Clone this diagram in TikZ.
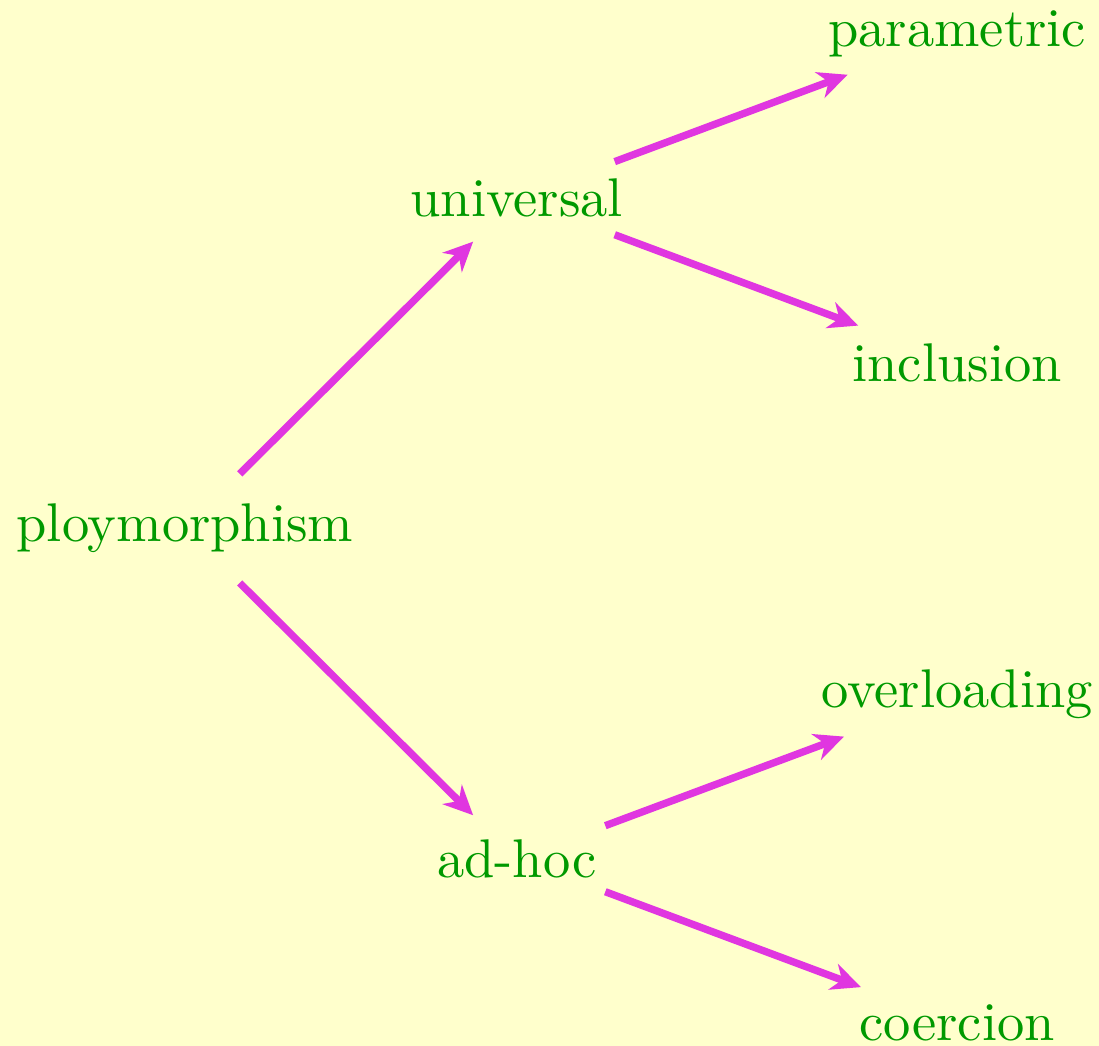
\documentclass[tikz,border=0pt]{standalone}
\usetikzlibrary{arrows.meta}
\definecolor{bgyellow}{RGB}{255,255,204}
\definecolor{edgemagenta}{RGB}{224,54,224}
\definecolor{labelgreen}{RGB}{0,153,0}
\begin{document}
\begin{tikzpicture}[x=1cm,y=1cm,
  term/.style={text=labelgreen},
  link/.style={draw=edgemagenta, line width=1.35pt,
    -{Stealth[length=5.4pt,width=5pt,inset=1.7pt]}}]
\fill [bgyellow] (-1.193,3.408) rectangle (5.895,-3.338);
\useasboundingbox (-1.193,3.408) rectangle (5.895,-3.338);
\node [term] (poly) at (0,0) {ploymorphism};
\node [term] (univ) at (2.14,2.13) {universal};
\node [term] (adhoc) at (2.14,-2.13) {ad-hoc};
\node [term] (param) at (4.98,3.19) {parametric};
\node [term] (incl) at (4.98,1.07) {inclusion};
\node [term] (overl) at (4.98,-1.07) {overloading};
\node [term] (coerc) at (4.98,-3.19) {coercion};
\draw [link, shorten <=2.8pt, shorten >=1.3pt] (poly) -- (univ);
\draw [link, shorten <=2.8pt, shorten >=1.3pt] (poly) -- (adhoc);
\draw [link, shorten <=-1pt, shorten >=-0.8pt] (univ) -- (param);
\draw [link, shorten <=-1pt, shorten >=-0.8pt] (univ) -- (incl);
\draw [link, shorten <=-2pt, shorten >=-0.8pt] (adhoc) -- (overl);
\draw [link, shorten <=-2pt, shorten >=-0.8pt] (adhoc) -- (coerc);
\end{tikzpicture}
\end{document}
